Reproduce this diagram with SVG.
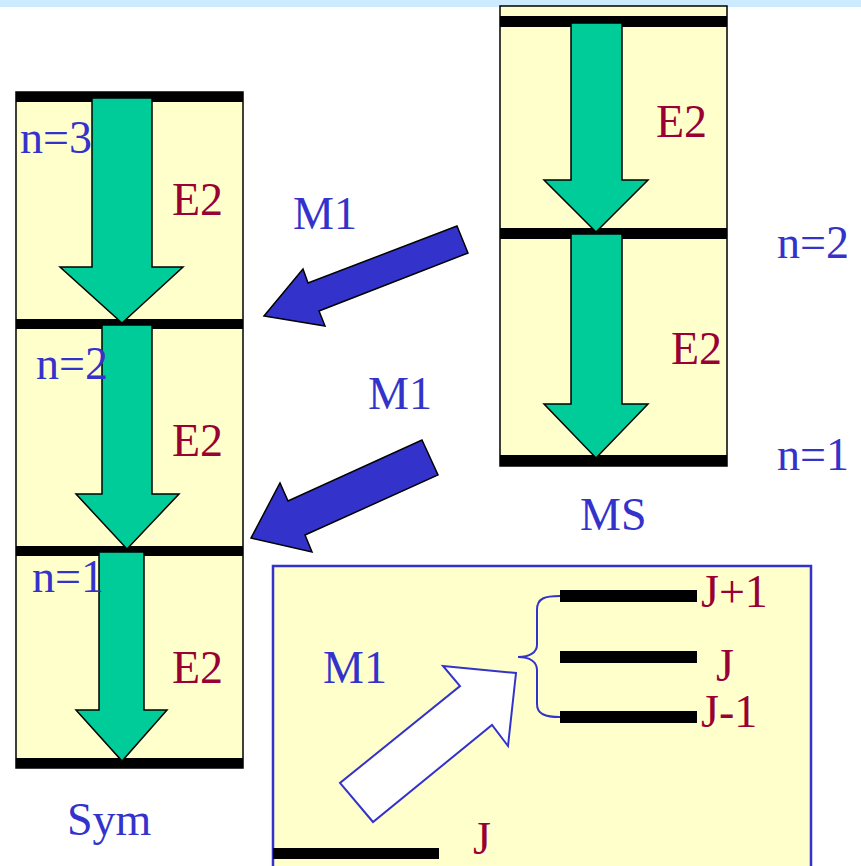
<svg xmlns="http://www.w3.org/2000/svg" width="861" height="866" viewBox="0 0 861 866">
  <style>
    .panel { fill: #FFFFCC; stroke: #000; stroke-width: 1.5; }
    .level { fill: #000; }
    .e2 { fill: #00CC99; stroke: #000; stroke-width: 1.5; stroke-linejoin: miter; }
    .m1 { fill: #3333CC; stroke: #000; stroke-width: 1.5; }
    .lbl { font-family: "Liberation Serif", "Times New Roman", serif; font-size: 46px; }
    .blue { fill: #3333CC; }
    .red { fill: #990033; }
  </style>

  <!-- top band -->
  <rect x="0" y="0" width="861" height="7" fill="#CCEBFF"/>

  <!-- symmetric-state ladder -->
  <g id="sym">
    <rect class="panel" x="16" y="92" width="227" height="676"/>
    <rect class="level" x="16" y="92" width="227" height="10"/>
    <rect class="level" x="16" y="319" width="227" height="10"/>
    <rect class="level" x="16" y="546" width="227" height="10"/>
    <rect class="level" x="16" y="758" width="227" height="10"/>
    <polygon class="e2" points="92,98 152,98 152,267 183,267 122,323 60,267 92,267"/>
    <polygon class="e2" points="102,325 152,325 152,494 179,494 127,549 76,494 102,494"/>
    <polygon class="e2" points="99,552 144,552 144,710 167,710 122,761 76,710 99,710"/>
    <text class="lbl blue" x="20" y="153">n=3</text>
    <text class="lbl blue" x="36" y="379">n=2</text>
    <text class="lbl blue" x="32" y="592">n=1</text>
    <text class="lbl red" x="172" y="215">E2</text>
    <text class="lbl red" x="172" y="456">E2</text>
    <text class="lbl red" x="172" y="683">E2</text>
    <text class="lbl blue" x="67" y="835">Sym</text>
  </g>

  <!-- mixed-symmetry ladder -->
  <g id="ms">
    <rect class="panel" x="500" y="6" width="227" height="460"/>
    <rect class="level" x="500" y="16" width="227" height="11"/>
    <rect class="level" x="500" y="228" width="227" height="11"/>
    <rect class="level" x="500" y="455" width="227" height="11"/>
    <polygon class="e2" points="571,23 622,23 622,180 648,180 596,232 544,180 571,180"/>
    <polygon class="e2" points="571,234 622,234 622,404 648,404 596,458 544,404 571,404"/>
    <text class="lbl red" x="656" y="137">E2</text>
    <text class="lbl red" x="671" y="364">E2</text>
    <text class="lbl blue" x="777" y="258">n=2</text>
    <text class="lbl blue" x="777" y="470">n=1</text>
    <text class="lbl blue" x="580" y="530">MS</text>
  </g>

  <!-- M1 transitions between ladders -->
  <g id="connectors">
    <polygon class="m1" points="457,226 468,253 319,311 325,326 264,316 303,269 308,283"/>
    <polygon class="m1" points="422,440 438,475 305,535 312,552 251,538 280,483 288,501"/>
    <text class="lbl blue" x="293" y="229">M1</text>
    <text class="lbl blue" x="368" y="409">M1</text>
  </g>

  <!-- inset: M1 excitation to J-1, J, J+1 -->
  <g id="inset">
    <rect x="273" y="566" width="538" height="320" fill="#FFFFCC" stroke="#3333CC" stroke-width="2.5"/>
    <rect class="level" x="273" y="848" width="166" height="11"/>
    <rect class="level" x="560" y="590" width="137" height="12"/>
    <rect class="level" x="560" y="651" width="137" height="12"/>
    <rect class="level" x="560" y="711" width="137" height="12"/>
    <path d="M560,596 C545,596 537,598 537,610 L537,645 C537,652 530,657 518,657 C530,657 537,662 537,670 L537,704 C537,714 545,717 560,717" fill="none" stroke="#3333CC" stroke-width="2"/>
    <polygon points="443,666 516,673 508,746 492,725 373,822 340,783 460,686" fill="#FFF" stroke="#3333CC" stroke-width="2"/>
    <text class="lbl blue" x="323" y="683">M1</text>
    <text class="lbl red" x="701" y="607">J+1</text>
    <text class="lbl red" x="716" y="681">J</text>
    <text class="lbl red" x="701" y="727">J-1</text>
    <text class="lbl red" x="473" y="854">J</text>
  </g>
</svg>
